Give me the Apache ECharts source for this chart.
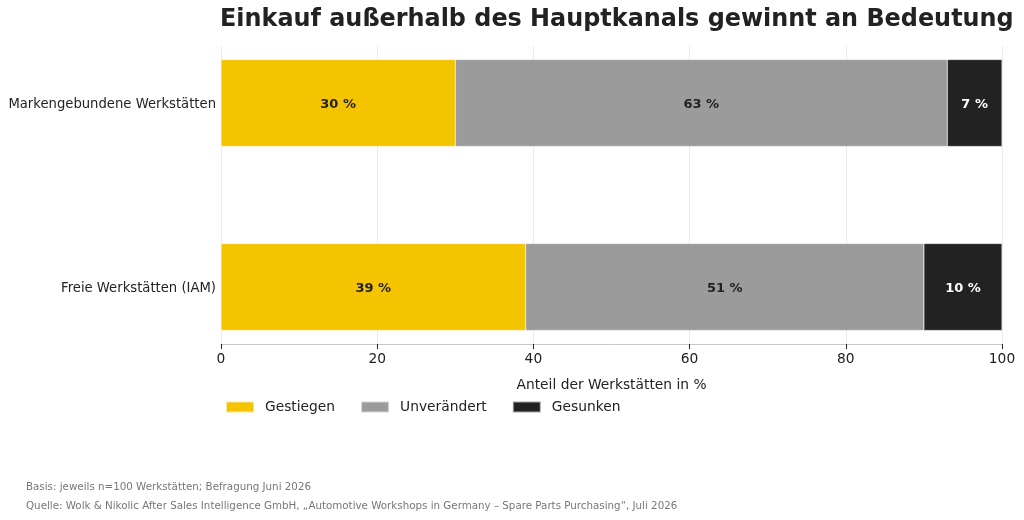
<!DOCTYPE html>
<html>
<head>
<meta charset="utf-8">
<script src="https://cdn.jsdelivr.net/npm/echarts@6/dist/echarts.min.js"></script>
<style>
  html, body { margin: 0; padding: 0; background: #fff; }
  #chart { width: 1024px; height: 520px; }
</style>
</head>
<body>
<div id="chart"></div>
<script>
const categories = ['Freie Werkstätten (IAM)', 'Markengebundene Werkstätten']
const gestiegen = [39, 30]
const unveraendert = [51, 63]
const gesunken = [10, 7]
const xTicks = [0, 20, 40, 60, 80, 100]

const font = 'DejaVu Sans'
const colors = ['#f5c400', '#9b9b9b', '#222222']

const makeSeries = (name, data, color, labelColor) => ({
  name,
  type: 'bar',
  stack: 'total',
  data,
  barWidth: 87,
  xAxisIndex: 0,
  yAxisIndex: 0,
  itemStyle: { color, borderColor: 'rgba(255,255,255,0.6)', borderWidth: 0.5 },
  label: {
    show: true,
    position: 'inside',
    offset: [0, 2],
    formatter: p => p.value + ' %',
    color: labelColor,
    fontFamily: font,
    fontWeight: 'bold',
    fontSize: 13
  },
  emphasis: { disabled: true }
})

const option = {
  animation: false,
  color: colors,
  title: {
    text: 'Einkauf außerhalb des Hauptkanals gewinnt an Bedeutung',
    left: 220,
    top: 8,
    padding: 0,
    textStyle: { fontFamily: font, fontWeight: 'bold', fontSize: 23.9, color: '#222' }
  },
  legend: {
    left: 225,
    top: 400,
    padding: 0,
    itemWidth: 28,
    itemHeight: 11,
    itemGap: 25,
    icon: 'rect',
    textStyle: { fontFamily: font, fontSize: 13.8, color: '#222', padding: [0, 0, 0, 6] },
    data: ['Gestiegen', 'Unverändert', 'Gesunken']
  },
  grid: [
    // bars
    { left: 221, width: 781, top: 11, height: 368, outerBoundsMode: 'none', containLabel: false },
    // visible x axis + gridlines
    { left: 221, width: 781, top: 46, height: 298, outerBoundsMode: 'none', containLabel: false }
  ],
  xAxis: [
    { gridIndex: 0, type: 'value', min: 0, max: 100, show: false },
    {
      gridIndex: 1,
      type: 'value',
      min: 0,
      max: 100,
      interval: 20,
      name: 'Anteil der Werkstätten in %',
      nameLocation: 'middle',
      nameGap: 34,
      nameTextStyle: { fontFamily: font, fontSize: 13.8, color: '#222' },
      axisLine: { show: true, lineStyle: { color: '#c8c8c8', width: 1 } },
      axisTick: { show: true, length: 5, lineStyle: { color: '#222' } },
      axisLabel: {
        fontFamily: font,
        fontSize: 13.8,
        color: '#222',
        margin: 8,
        formatter: v => (xTicks.includes(v) ? String(v) : '')
      },
      splitLine: { show: true, lineStyle: { color: '#ebebeb', width: 1 } }
    }
  ],
  yAxis: [
    {
      gridIndex: 0,
      type: 'category',
      data: categories,
      axisLine: { show: false },
      axisTick: { show: false },
      axisLabel: {
        margin: 5,
        formatter: v => '{a|' + v + '}',
        rich: { a: { fontFamily: font, fontSize: 13.2, color: '#222', padding: [4, 0, 0, 0] } }
      }
    },
    { gridIndex: 1, type: 'value', min: 0, max: 1, show: false }
  ],
  series: [
    makeSeries('Gestiegen', gestiegen, colors[0], '#222'),
    makeSeries('Unverändert', unveraendert, colors[1], '#222'),
    makeSeries('Gesunken', gesunken, colors[2], '#fff')
  ],
  graphic: [
    {
      type: 'text',
      left: 26,
      top: 482,
      style: {
        text: 'Basis: jeweils n=100 Werkstätten; Befragung Juni 2026',
        fontFamily: font,
        fontSize: 10.3,
        fill: '#777'
      }
    },
    {
      type: 'text',
      left: 26,
      top: 501,
      style: {
        text: 'Quelle: Wolk & Nikolic After Sales Intelligence GmbH, „Automotive Workshops in Germany – Spare Parts Purchasing“, Juli 2026',
        fontFamily: font,
        fontSize: 10.3,
        fill: '#777'
      }
    }
  ]
}

const chart = echarts.init(document.getElementById('chart'))
chart.setOption(option)
window.addEventListener('resize', () => {
  chart.resize()
})
</script>
</body>
</html>
